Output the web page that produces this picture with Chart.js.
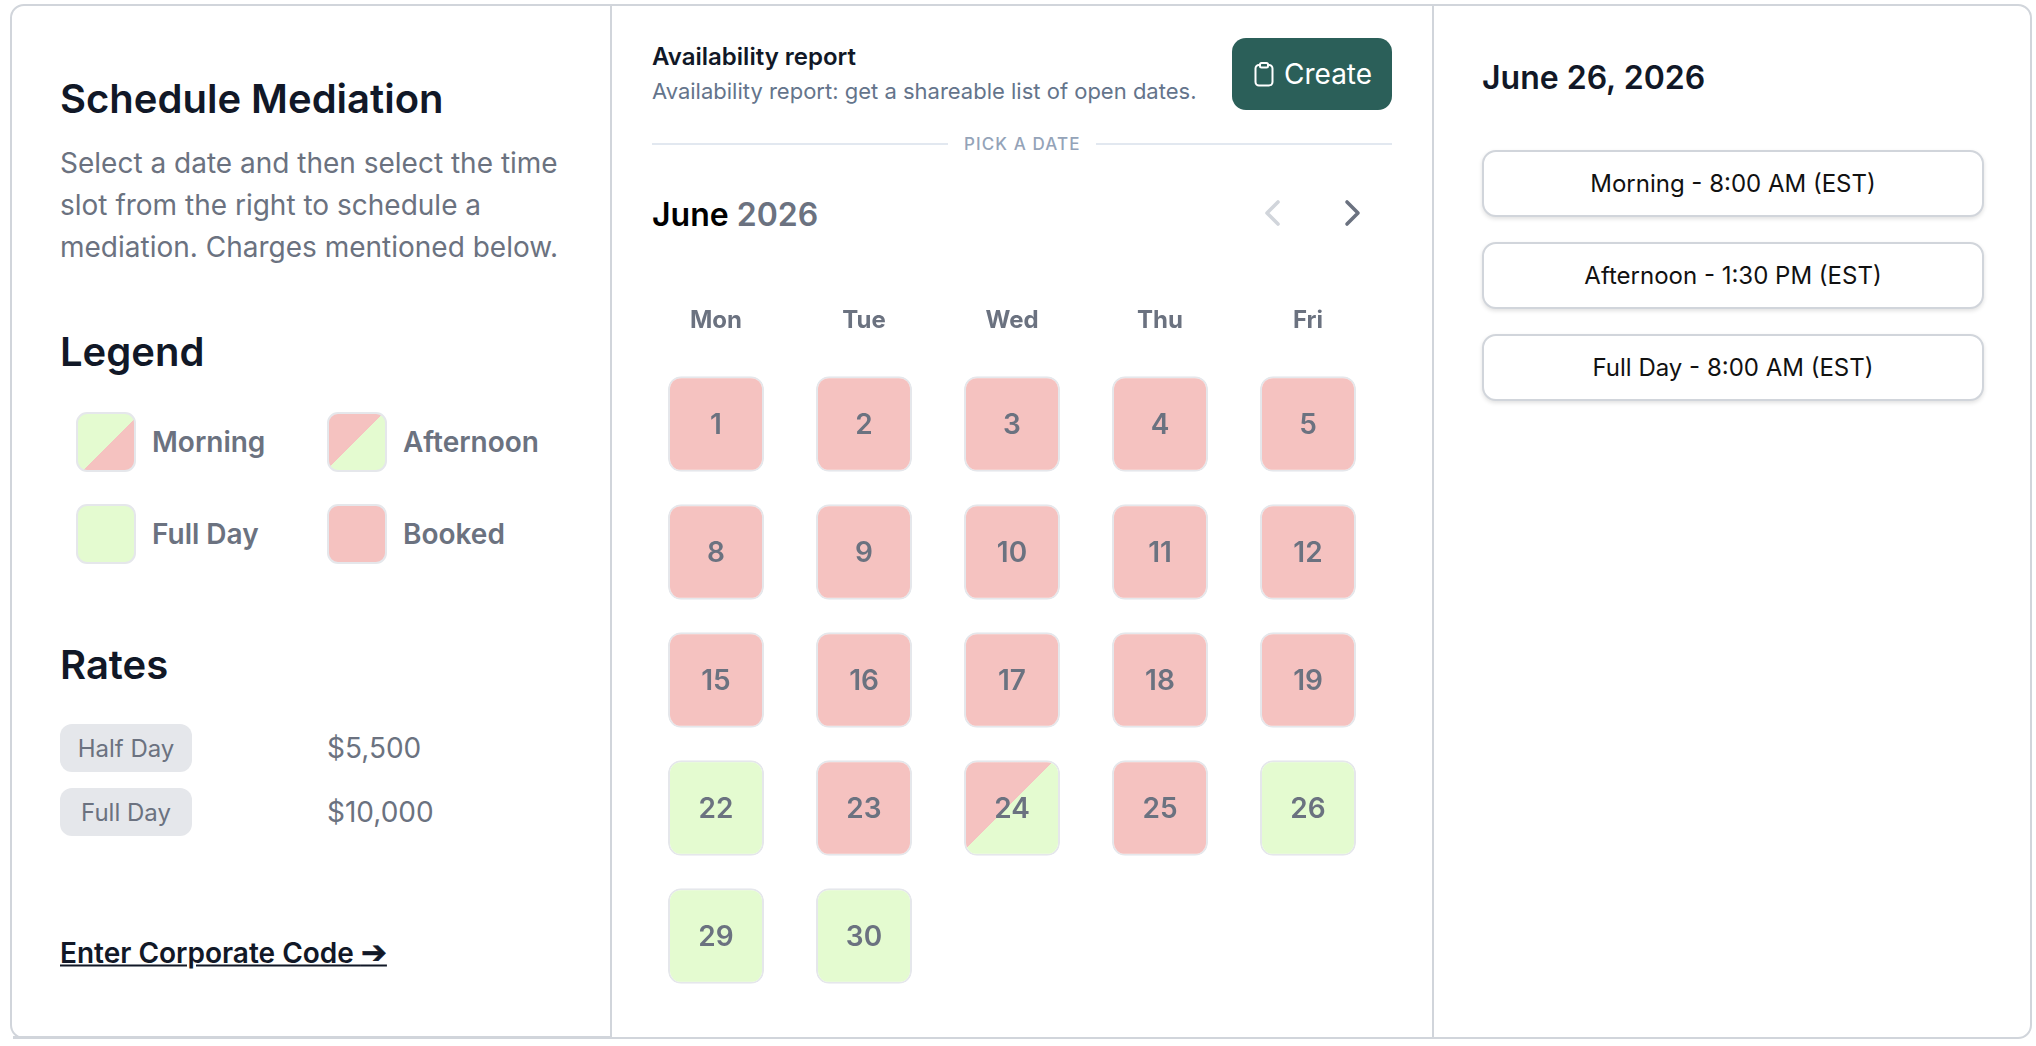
<!DOCTYPE html>
<html lang="en">
<head>
<meta charset="utf-8">
<title>Schedule Mediation</title>
<script src="https://cdn.jsdelivr.net/npm/chart.js@4/dist/chart.umd.min.js"></script>
<style>
html,body{margin:0;padding:0;background:#fff;width:2036px;height:1046px;overflow:hidden;font-family:Inter,"Noto Sans",sans-serif;}
.t{position:absolute;white-space:nowrap;line-height:1;transform:translateY(-50%);}
.box{position:absolute;box-sizing:border-box;}
.card{left:10px;top:4px;width:2022px;height:1035px;border:2px solid #d1d5db;border-radius:14px;}
.bar{position:absolute;background:#d1d5db;width:2px;top:5px;height:1033px;}
.sw{position:absolute;box-sizing:border-box;width:60px;height:60px;border:2px solid #e5e7eb;border-radius:11px;}
.green{background:#e4fbd0}.red{background:#f5c2c0}
.morning{background:linear-gradient(135deg,#e4fbd0 55%,#f5c2c0 55%)}
.afternoon{background:linear-gradient(135deg,#f5c2c0 47.5%,#e4fbd0 47.5%)}
.h{font-weight:600;color:#111827;}
.d{font-weight:400;color:#6b7280;font-size:28px;}
.l{font-weight:600;color:#6b7280;font-size:28px;}
.badge{position:absolute;left:60px;width:132px;height:48px;border-radius:12px;background:#e5e7eb;color:#6b7280;font-size:24px;display:flex;align-items:center;justify-content:center;}
.price{font-size:28px;color:#6b7280;}
.slot{position:absolute;box-sizing:border-box;left:1482px;width:502px;height:67px;border:2px solid #d1d5db;border-radius:14px;box-shadow:0 2px 4px rgba(0,0,0,.12);display:flex;align-items:center;justify-content:center;font-size:24px;color:#111;background:#fff;}
</style>
</head>
<body>
<div class="box card"></div>
<div class="box" style="left:13px;top:1036px;width:598px;height:3px;background:#d1d5db"></div>
<div class="bar" style="left:610px"></div>
<div class="bar" style="left:1432px"></div>

<div class="t h" style="left:60px;top:99px;font-size:40px">Schedule Mediation</div>
<div class="t d" style="left:60px;top:163px">Select a date and then select the time</div>
<div class="t d" style="left:60px;top:205px">slot from the right to schedule a</div>
<div class="t d" style="left:60px;top:247px">mediation. Charges mentioned below.</div>

<div class="t h" style="left:60px;top:352px;font-size:40px">Legend</div>
<div class="sw morning" style="left:76px;top:412px"></div>
<div class="t l" style="left:152px;top:442px">Morning</div>
<div class="sw afternoon" style="left:327px;top:412px"></div>
<div class="t l" style="left:403px;top:442px">Afternoon</div>
<div class="sw green" style="left:76px;top:504px"></div>
<div class="t l" style="left:152px;top:534px">Full Day</div>
<div class="sw red" style="left:327px;top:504px"></div>
<div class="t l" style="left:403px;top:534px">Booked</div>

<div class="t h" style="left:60px;top:665px;font-size:40px">Rates</div>
<div class="badge" style="top:724px">Half Day</div>
<div class="t price" style="left:327px;top:748px">$5,500</div>
<div class="badge" style="top:788px">Full Day</div>
<div class="t price" style="left:327px;top:812px">$10,000</div>
<div class="t" style="left:60px;top:952px;font-size:28px;font-weight:600;color:#111827;text-decoration:underline">Enter Corporate Code <span style="font-family:'DejaVu Sans';font-size:31px;-webkit-text-stroke:.6px #111827">➔</span></div>

<div class="t" style="left:652px;top:57px;font-size:24px;font-weight:600;color:#111827">Availability report</div>
<div class="t" style="left:652px;top:91px;font-size:22px;color:#64748b">Availability report: get a shareable list of open dates.</div>
<div class="box" style="left:1232px;top:38px;width:160px;height:72px;border-radius:14px;background:#2b5f59"></div>
<svg style="position:absolute;left:1253px;top:61px" width="22" height="26" viewBox="0 0 22 26" fill="none" stroke="#fff" stroke-width="2"><rect x="2.5" y="4" width="17" height="20.5" rx="3.5"/><rect x="7" y="2" width="8" height="4.5" rx="1.5" fill="#2b5f59"/></svg>
<div class="t" style="left:1284px;top:74px;font-size:28px;color:#fff">Create</div>
<div class="box" style="left:652px;top:143px;width:296px;height:2px;background:#e2e8f0"></div>
<div class="box" style="left:1096px;top:143px;width:296px;height:2px;background:#e2e8f0"></div>
<div class="t" style="left:964px;top:144px;font-size:17px;font-weight:500;letter-spacing:1.1px;color:#94a3b8">PICK A DATE</div>
<div class="t" style="left:652px;top:215px;font-size:32px;font-weight:600;color:#000">June <span style="color:#6b7280">2026</span></div>
<svg style="position:absolute;left:1262px;top:198px" width="20" height="30" viewBox="0 0 20 30" fill="none" stroke="#d1d5db" stroke-width="3.6" stroke-linecap="round" stroke-linejoin="round"><path d="M16 4 L5 15 L16 26"/></svg>
<svg style="position:absolute;left:1343px;top:198px" width="20" height="30" viewBox="0 0 20 30" fill="none" stroke="#6b7280" stroke-width="3.6" stroke-linecap="round" stroke-linejoin="round"><path d="M4 4 L15 15 L4 26"/></svg>

<canvas id="cal" width="740" height="710" style="position:absolute;left:642px;top:290px"></canvas>

<div class="t h" style="left:1482px;top:78px;font-size:32px">June 26, 2026</div>
<div class="slot" style="top:150px">Morning - 8:00 AM (EST)</div>
<div class="slot" style="top:242px">Afternoon - 1:30 PM (EST)</div>
<div class="slot" style="top:334px">Full Day - 8:00 AM (EST)</div>

<script>
const weekdays = ["Mon", "Tue", "Wed", "Thu", "Fri"];
const week1Days = [1, 2, 3, 4, 5];
const week2Days = [8, 9, 10, 11, 12];
const week3Days = [15, 16, 17, 18, 19];
const week4Days = [22, 23, 24, 25, 26];
const week5Days = [29, 30];
const week1Status = ["booked", "booked", "booked", "booked", "booked"];
const week2Status = ["booked", "booked", "booked", "booked", "booked"];
const week3Status = ["booked", "booked", "booked", "booked", "booked"];
const week4Status = ["full", "booked", "afternoon", "booked", "full"];
const week5Status = ["full", "full"];

const GREEN = "#e4fbd0", RED = "#f5c2c0", EDGE = "#e5e7eb", INK = "#6b7280";
const FONT = 'Inter, "Noto Sans", sans-serif';
const CELL = 0.374;

function fill(ctx, status) {
  if (status === "booked") return RED;
  if (status === "full") return GREEN;
  const chart = ctx.chart, cx = chart.scales.x.getPixelForValue(ctx.dataIndex), cy = chart.scales.y.getPixelForValue(ctx.datasetIndex + 1);
  const g = chart.ctx.createLinearGradient(cx - 48, cy - 48, cx + 48, cy + 48);
  const stop = 0.47;
  g.addColorStop(0, RED); g.addColorStop(stop, RED); g.addColorStop(stop, GREEN); g.addColorStop(1, GREEN);
  return g;
}
const weeks = [[week1Days, week1Status], [week2Days, week2Status], [week3Days, week3Status], [week4Days, week4Status], [week5Days, week5Status]];
const datasets = weeks.map(([days, status], w) => ({
  label: "Week " + (w + 1),
  days,
  data: days.map(() => [w + 1 - CELL, w + 1 + CELL]),
  backgroundColor: ctx => fill(ctx, status[ctx.dataIndex]),
  borderColor: EDGE, borderWidth: 2, borderRadius: 13, borderSkipped: false, inflateAmount: 0,
  barThickness: 96
}));
const dayNumbers = {
  id: "dayNumbers",
  afterDatasetsDraw(chart) {
    const c = chart.ctx;
    c.save();
    c.font = "600 28px " + FONT; c.fillStyle = INK; c.textAlign = "center"; c.textBaseline = "middle";
    chart.data.datasets.forEach((ds, i) => {
      chart.getDatasetMeta(i).data.forEach((bar, j) => {
        c.fillText(String(ds.days[j]), bar.x, chart.scales.y.getPixelForValue(i + 1) + 2);
      });
    });
    c.restore();
  }
};
new Chart(document.getElementById("cal"), {
  type: "bar",
  data: { labels: weekdays, datasets },
  plugins: [dayNumbers],
  options: {
    responsive: false, animation: false, devicePixelRatio: 1,
    layout: { padding: 0 },
    plugins: { legend: { display: false }, tooltip: { enabled: false } },
    scales: {
      x: { position: "top", stacked: false, offset: true,
        grid: { display: false, drawTicks: false }, border: { display: false },
        afterFit(s) { s.height = 70; },
        ticks: { color: INK, padding: 25, maxRotation: 0, font: { family: FONT, size: 24, weight: "700" } } },
      y: { display: false, reverse: true, min: 0.5, max: 5.5 }
    },
    datasets: { bar: { grouped: false } }
  }
});
</script>
</body>
</html>
